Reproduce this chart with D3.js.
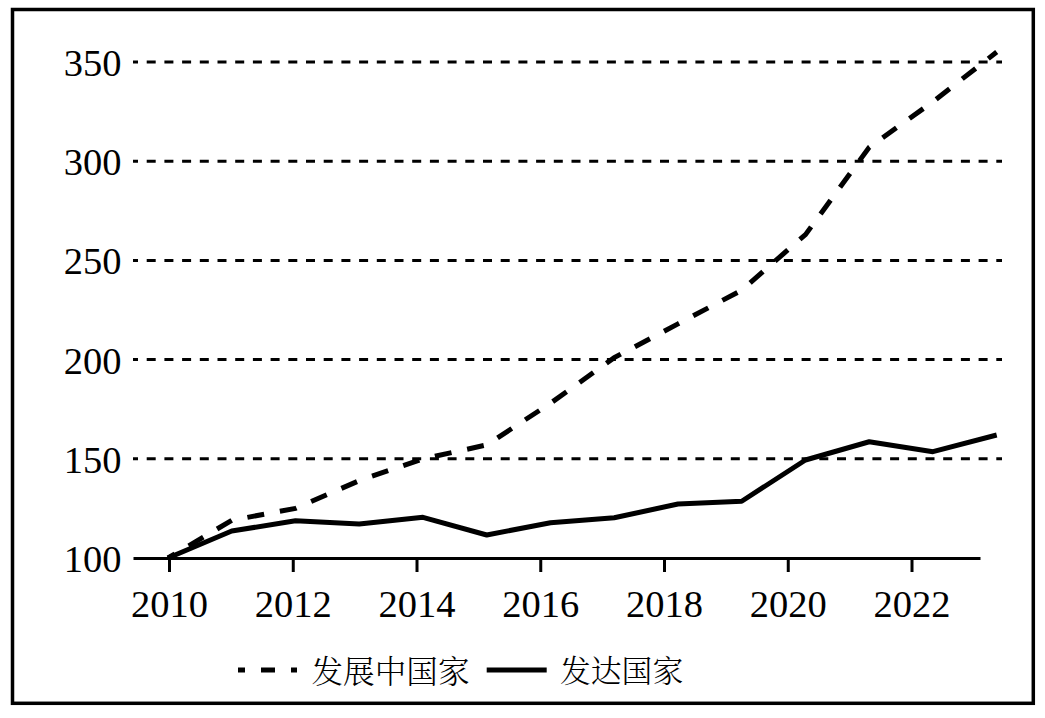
<!DOCTYPE html>
<html>
<head>
<meta charset="utf-8">
<script src="https://cdn.jsdelivr.net/npm/d3@7"></script>
<style>
  html, body { margin: 0; padding: 0; background: #fff; }
  svg { display: block; }
</style>
</head>
<body>
<svg id="chart" width="1045" height="718"></svg>
<script>
// ---- data ----
const years = [2010, 2011, 2012, 2013, 2014, 2015, 2016, 2017, 2018, 2019, 2020, 2021, 2022, 2023];
const developing = [100, 119, 125, 139, 150, 157, 178, 201, 218, 235, 263, 307, 330, 355];
const developed  = [100, 113.6, 118.8, 117.1, 120.5, 111.6, 117.8, 120.3, 127.2, 128.6, 149.4, 158.6, 153.6, 162];
const yTicks = [100, 150, 200, 250, 300, 350];
const xTicks = [2010, 2012, 2014, 2016, 2018, 2020, 2022];
const seriesNames = ["发展中国家", "发达国家"];

// ---- layout ----
const svg = d3.select("#chart");
const numFont = "'Liberation Serif', 'Times New Roman', serif";
const cjkFont = "'Noto Serif CJK SC', 'Noto Sans CJK SC', sans-serif";

// frame
svg.append("rect")
  .attr("x", 12.5).attr("y", 9.5)
  .attr("width", 1020.8).attr("height", 693.8)
  .attr("fill", "none").attr("stroke", "#000").attr("stroke-width", 3.5);

const y = d3.scaleLinear().domain([100, 350]).range([558, 62]);
const xData = d3.scaleLinear().domain([2010, 2023]).range([168, 996.7]);
const xAxisScale = d3.scaleLinear().domain([2009.418, 2023.107]).range([133, 980]);

// gridlines
svg.append("g").selectAll("line")
  .data(yTicks.filter(d => d > 100))
  .join("line")
  .attr("x1", 133).attr("x2", 1002)
  .attr("y1", d => y(d)).attr("y2", d => y(d))
  .attr("stroke", "#000").attr("stroke-width", 3)
  .attr("stroke-dasharray", "9,8.7")
  .attr("stroke-dashoffset", 4);

// y labels
svg.append("g").selectAll("text")
  .data(yTicks)
  .join("text")
  .attr("x", 121.5)
  .attr("y", d => y(d) + 14)
  .attr("text-anchor", "end")
  .attr("font-family", numFont)
  .attr("font-size", 38.5)
  .attr("fill", "#000")
  .text(d => d);

// x axis
const xAxis = d3.axisBottom(xAxisScale)
  .tickValues(xTicks)
  .tickFormat(d3.format("d"))
  .tickSizeOuter(0)
  .tickSizeInner(14)
  .tickPadding(0);
const gx = svg.append("g").attr("transform", `translate(0,${y(100)})`).call(xAxis);
gx.select(".domain").attr("stroke", "#000").attr("stroke-width", 3);
gx.selectAll(".tick line").attr("stroke", "#000").attr("stroke-width", 3);
gx.selectAll(".tick text")
  .attr("y", 59).attr("dy", null)
  .attr("font-family", numFont)
  .attr("font-size", 38.5)
  .attr("fill", "#000");

// lines
const line = d3.line()
  .x((d, i) => xData(years[i]))
  .y(d => y(d));

svg.append("path")
  .datum(developing)
  .attr("d", line)
  .attr("fill", "none")
  .attr("stroke", "#000")
  .attr("stroke-width", 5)
  .attr("stroke-dasharray", "17,16")
  .attr("stroke-dashoffset", 9);

svg.append("path")
  .datum(developed)
  .attr("d", line)
  .attr("fill", "none")
  .attr("stroke", "#000")
  .attr("stroke-width", 5)
  .attr("stroke-linejoin", "round");

// legend
const leg = svg.append("g");
leg.append("line")
  .attr("x1", 238).attr("x2", 297).attr("y1", 670).attr("y2", 670)
  .attr("stroke", "#000").attr("stroke-width", 5)
  .attr("stroke-dasharray", "14,16").attr("stroke-dashoffset", 7);
leg.append("text")
  .attr("x", 311.5).attr("y", 669)
  .attr("dominant-baseline", "central")
  .attr("font-family", cjkFont).attr("font-weight", 300)
  .attr("font-size", 31.6).attr("fill", "#000")
  .text(seriesNames[0]);
leg.append("line")
  .attr("x1", 486.7).attr("x2", 546.7).attr("y1", 670).attr("y2", 670)
  .attr("stroke", "#000").attr("stroke-width", 5);
leg.append("text")
  .attr("x", 560).attr("y", 669)
  .attr("dominant-baseline", "central")
  .attr("font-family", cjkFont).attr("font-weight", 300)
  .attr("font-size", 30.8).attr("fill", "#000")
  .text(seriesNames[1]);
</script>
</body>
</html>
